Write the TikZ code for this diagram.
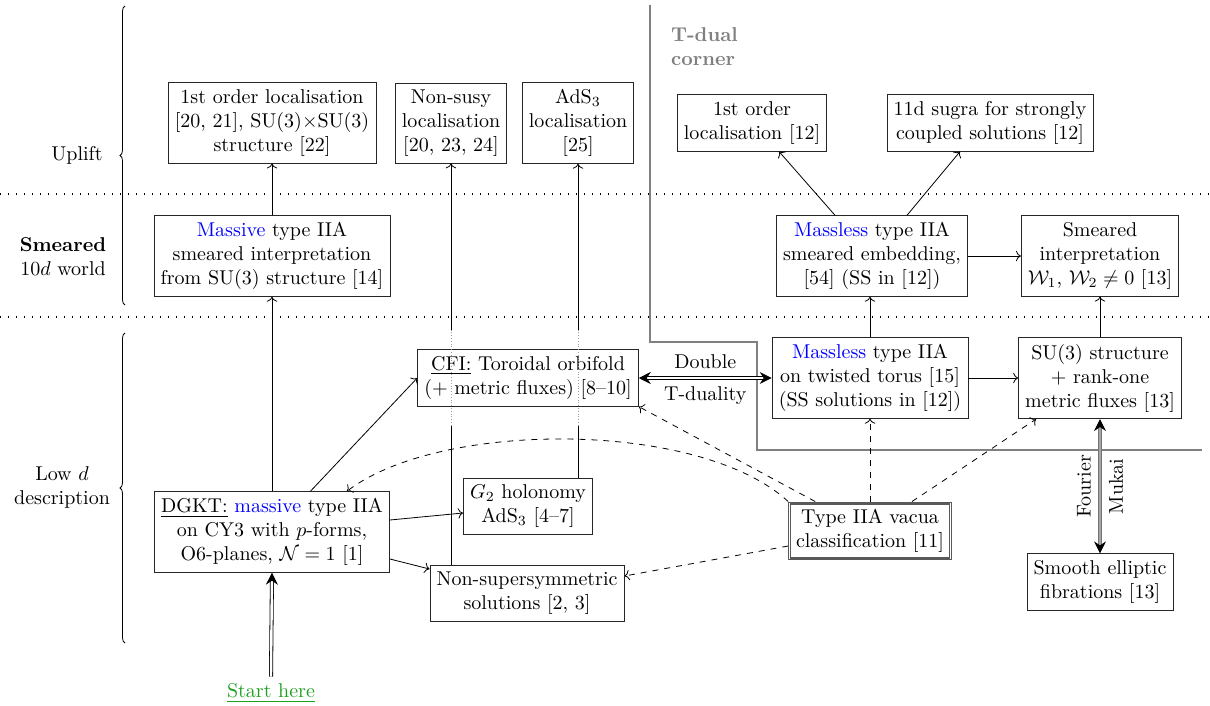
\documentclass[tikz,border=0pt]{standalone}
\usetikzlibrary{decorations.pathreplacing,arrows.meta,calc}
\definecolor{startgreen}{RGB}{30,160,30}
\begin{document}
\begin{tikzpicture}[x=0.5pt,y=-0.5pt,
  box/.style={draw=black!85, align=center, fill=white, inner sep=3.33pt},
  side/.style={align=center},
  arr/.style={->},
  dasharr/.style={->, dashed},
  bigtip/.tip={Stealth[length=6pt,width=6pt,inset=2pt,color=black]},
  sepline/.style={line width=0.6pt, dash pattern=on 0.6pt off 3.4pt},
  corner/.style={draw=black!50, line width=0.7pt}]
\useasboundingbox (0,0) rectangle (1210,706);

% section separators
\draw[sepline] (0,194) -- (1210,194);
\draw[sepline] (0,317) -- (1210,317);

% T-dual corner boundary
\coordinate (c1) at (650,5);
\coordinate (c2) at (650,342);
\coordinate (c3) at (757,342);
\coordinate (c4) at (757,450);
\coordinate (c5) at (1202,450);
\draw[corner] (c1) -- (c2) -- (c3) -- (c4) -- (c5);
\node[anchor=west, align=left, text=black!50, font=\bfseries] (tdual) at (664,47) {T-dual\\corner};

% braces and side labels
\coordinate (b1) at (125,305);
\coordinate (b2) at (125,6);
\coordinate (b3) at (125,643);
\coordinate (b4) at (125,333);
\draw[decorate, decoration={brace, amplitude=2.5pt}] (b1) -- (b2);
\draw[decorate, decoration={brace, amplitude=2.5pt}] (b3) -- (b4);
\node[side] (lup) at (77,155) {Uplift};
\node[side] (lsm) at (63,257) {\textbf{Smeared}\\$10d$ world};
\node[side] (llow) at (62,487) {Low $d$\\description};

% uplift row
\node[box] (U1) at (272,123) {1st order localisation\\{}[20, 21], SU(3)$\times$SU(3)\\structure [22]};
\node[box] (U2) at (451,123) {Non-susy\\localisation\\{}[20, 23, 24]};
\node[box] (U3) at (578,123) {AdS$_3$\\localisation\\{}[25]};
\node[box] (U4) at (752,123) {1st order\\localisation [12]};
\node[box] (U5) at (990,123) {11d sugra for strongly\\coupled solutions [12]};

% smeared row
\node[box] (S1) at (272,256) {\textcolor{blue}{Massive} type IIA\\smeared interpretation\\from SU(3) structure [14]};
\node[box] (S2) at (872,256) {\textcolor{blue}{Massless} type IIA\\smeared embedding,\\{}[54] (SS in [12])};
\node[box] (S3) at (1100,256) {Smeared\\interpretation\\$\mathcal{W}_1$, $\mathcal{W}_2\neq 0$ [13]};

% low d row
\node[box] (CFI) at (528,378) {\underline{CFI:} Toroidal orbifold\\(+ metric fluxes) [8--10]};
\node[box] (T1) at (870,378) {\textcolor{blue}{Massless} type IIA\\on twisted torus [15]\\(SS solutions in [12])};
\node[box] (SU3) at (1100,378) {SU(3) structure\\+ rank-one\\metric fluxes [13]};
\node[box] (DGKT) at (272,532) {\underline{DGKT:} \textcolor{blue}{massive} type IIA\\on CY3 with $p$-forms,\\O6-planes, $\mathcal{N}=1$ [1]};
\node[box] (G2) at (528,506) {$G_2$ holonomy\\AdS$_3$ [4--7]};
\node[box] (NS) at (527,593) {Non-supersymmetric\\solutions [2, 3]};
\node[box, draw=black!65, line width=0.6pt, inner sep=3.6pt] (TV) at (870,531) {Type IIA vacua\\classification [11]};
\draw[black!65, line width=0.6pt] ($(TV.south west)+(2.5,-2.5)$) rectangle ($(TV.north east)+(-2.5,2.5)$);
\node[box] (SE) at (1100,582) {Smooth elliptic\\fibrations [13]};
\node (start) at (271,693) {\textcolor{startgreen}{\underline{Start here}}};

% solid arrows
\draw[arr] (S1.north) -- (U1.south);
\draw[arr] (DGKT.north) -- (S1.south);
\draw[arr] (DGKT) -- (CFI.west);
\draw[arr] ($(DGKT.east)+(0,-12)$) -- ($(G2.west)+(0,7)$);
\draw[arr] ($(DGKT.east)+(0,27)$) -- ($(NS.west)+(0,-24)$);

% long vertical lines passing the CFI box
\draw (U2.south |- NS.north) -- ($(U2.south |- CFI.south)+(0,19)$);
\draw[densely dotted, black!40] ($(U2.south |- CFI.south)+(0,19)$) -- ($(U2.south |- CFI.north)+(0,-19)$);
\draw[arr] ($(U2.south |- CFI.north)+(0,-19)$) -- (U2.south);
\draw (U3.south |- G2.north) -- ($(U3.south |- CFI.south)+(0,19)$);
\draw[densely dotted, black!40] ($(U3.south |- CFI.south)+(0,19)$) -- ($(U3.south |- CFI.north)+(0,-19)$);
\draw[arr] ($(U3.south |- CFI.north)+(0,-19)$) -- (U3.south);

\draw[arr] ($(S2.north)+(-37,0)$) -- ($(U4.south)+(27,0)$);
\draw[arr] ($(S2.north)+(35,0)$) -- ($(U5.south)+(-30,0)$);
\draw[arr] (S2) -- (S3);
\draw[arr] (T1.north) -- (T1.north |- S2.south);
\draw[arr] (SU3.north) -- (SU3.north |- S3.south);
\draw[arr] (T1) -- (SU3);

% double arrows
\draw[bigtip-bigtip, double, double distance=1.2pt] (CFI.east) -- (T1.west)
  node[midway, above=1pt] {Double} node[midway, below=1pt] {T-duality};
\draw[bigtip-bigtip, double=black!35, double distance=0.9pt, draw=black!55] (SE.north) -- (SU3.south)
  node[midway, sloped, above=1pt] {Fourier} node[midway, sloped, below=1pt] {Mukai};
\draw[-bigtip, double, double distance=1.2pt] (start.north) -- (DGKT.south);

% dashed arrows from the classification
\draw[dasharr] ($(TV.north west)+(27,0)$) -- (CFI.south east);
\draw[dasharr] (TV.north west) .. controls (700,420) and (440,420) .. ($(DGKT.north east)+(-43,0)$);
\draw[dasharr] ($(TV.west)+(0,15)$) -- ($(NS.east)+(0,-17)$);
\draw[dasharr] (TV.north) -- (TV.north |- T1.south);
\draw[dasharr] ($(TV.north)+(42,0)$) -- ($(SU3.south west)+(18,0)$);
\end{tikzpicture}
\end{document}
